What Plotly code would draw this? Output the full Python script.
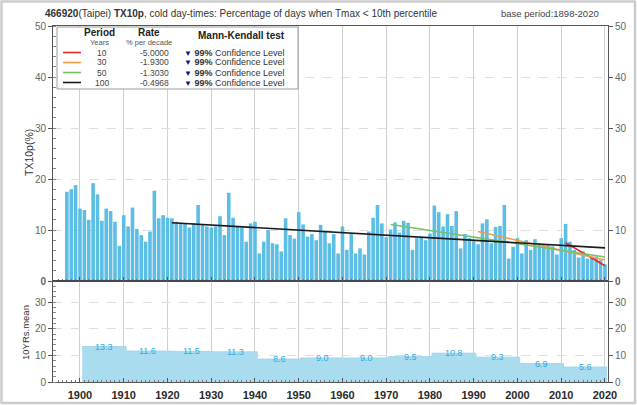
import plotly.graph_objects as go

# Annual TX10p (% of days with Tmax < 10th percentile), Taipei 466920
years = list(range(1897, 2021))
tx10p = [
    17.5, 18.0, 18.8,                                              # 1897-1899
    14.2, 13.9, 12.0, 19.2, 17.0, 11.8, 14.2, 13.7, 11.6, 6.9,     # 1900-1909
    12.9, 10.7, 14.4, 10.2, 9.0, 7.7, 9.7, 17.7, 12.3, 12.9,       # 1910-1919
    12.4, 12.3, 11.6, 11.3, 11.3, 10.5, 11.3, 14.9, 11.0, 10.7,    # 1920-1929
    10.5, 10.7, 12.7, 9.0, 17.3, 12.4, 10.7, 10.5, 7.7, 11.3,      # 1930-1939
    11.6, 5.4, 7.7, 10.0, 7.4, 7.2, 5.8, 12.3, 9.0, 8.3,           # 1940-1949
    13.5, 11.1, 8.7, 9.2, 8.0, 11.0, 9.7, 7.4, 9.2, 5.4,           # 1950-1959
    10.7, 6.1, 9.2, 5.4, 6.4, 5.2, 9.7, 12.4, 14.9, 11.3,          # 1960-1969
    8.6, 10.1, 11.5, 9.5, 11.8, 11.4, 6.1, 8.4, 8.7, 8.0,          # 1970-1979
    9.3, 14.8, 13.5, 10.7, 13.1, 10.8, 13.7, 6.4, 9.2, 8.4,        # 1980-1989
    7.8, 7.2, 11.3, 12.1, 7.4, 10.6, 10.8, 14.9, 4.4, 6.7,         # 1990-1999
    8.4, 5.4, 8.0, 6.1, 8.2, 7.4, 7.2, 7.1, 6.8, 5.2,              # 2000-2009
    8.4, 11.2, 7.7, 6.1, 4.6, 5.8, 4.4, 4.8, 4.8, 4.1,             # 2010-2019
    3.3,                                                           # 2020
]

# Trend lines: period length (years), rate (% per decade), value at 2020
trend_periods = [10, 30, 50, 100]
trend_rates = [-5.0000, -1.9300, -1.3030, -0.4968]
trend_end = [3.0, 4.1, 4.7, 6.5]
trend_colors = ["#e3262b", "#f39c43", "#76c068", "#1a1a1a"]
trend_end_year = 2020

# Ten-year means (1901-1910 ... 2011-2020)
decade_start = list(range(1901, 2021, 10))
decade_mean = [13.3, 11.6, 11.5, 11.3, 8.6, 9.0, 9.0, 9.5, 10.8, 9.3, 6.9, 5.6]

x_ticks = list(range(1900, 2021, 10))

FONT = "Liberation Sans, Arial, sans-serif"
BAR = "#5cbde5"
FILL = "#a9dcef"
LABEL_BLUE = "#33a9dc"
GRID = "#d0d0d0"

# plot-area pixel frame, used to place the text block and frame in paper units
PL, PR, PT, PB = 53, 608, 26, 382
SPLIT = 281


def px(x):
    return (x - PL) / (PR - PL)


def py(y):
    return (PB - y) / (PB - PT)


fig = go.Figure()

fig.add_trace(go.Bar(x=years, y=tx10p, marker=dict(color=BAR, line=dict(width=0)),
                     xaxis="x", yaxis="y", showlegend=False, hoverinfo="x+y"))

for per, rate, end, col in zip(trend_periods, trend_rates, trend_end, trend_colors):
    start_year = trend_end_year - per + 1
    start_val = end - rate / 10.0 * (per - 1)
    fig.add_trace(go.Scatter(x=[start_year, trend_end_year], y=[start_val, end],
                             mode="lines", line=dict(color=col, width=1.6),
                             xaxis="x", yaxis="y", showlegend=False))

# decade-mean step area
step_x = [d - 0.5 for d in decade_start] + [decade_start[-1] + 9.5]
step_y = decade_mean + [decade_mean[-1]]
fig.add_trace(go.Scatter(x=step_x, y=step_y, mode="lines", line_shape="hv",
                         line=dict(color="#9fd7ee", width=1), fill="tozeroy",
                         fillcolor=FILL, xaxis="x2", yaxis="y2", showlegend=False))

# right-hand label axes
fig.add_trace(go.Scatter(x=[None], y=[None], xaxis="x", yaxis="y3", showlegend=False))
fig.add_trace(go.Scatter(x=[None], y=[None], xaxis="x2", yaxis="y4", showlegend=False))

annotations = []
for d, m in zip(decade_start, decade_mean):
    annotations.append(dict(x=d + 4.5, y=m, xref="x2", yref="y2", text=f"{m:.1f}",
                            showarrow=False, font=dict(family=FONT, size=9, color=LABEL_BLUE),
                            xanchor="center", yanchor="middle"))

xrange = [1893.83, 2020.69]
split_dom = py(SPLIT)
top_range = [0, 50]
bot_range = [0, (PB - SPLIT) / ((PB - 302) / 30.0)]

axis_line = dict(showline=True, linecolor="#555555", linewidth=1, automargin=False)
ytick_font = dict(family=FONT, size=10, color="#666666")
top_vals = [0, 10, 20, 30, 40, 50]
top_text = ["<b>0</b>"] + [str(v) for v in top_vals[1:]]
bot_vals = [0, 10, 20, 30]

fig.update_layout(
    width=637, height=405,
    margin=dict(l=PL, r=637 - PR, t=PT, b=405 - PB, autoexpand=False),
    paper_bgcolor="white", plot_bgcolor="white",
    bargap=0.18,
    font=dict(family=FONT, color="#333333"),
    xaxis=dict(domain=[0, 1], anchor="y", range=xrange, showticklabels=False,
               tickvals=x_ticks, ticks="inside", ticklen=4, tickcolor="#555",
               minor=dict(dtick=1, tick0=1900, ticks="inside", ticklen=2, tickcolor="#777", showgrid=False),
               showgrid=True, gridcolor=GRID, gridwidth=1, mirror=True, zeroline=False, **axis_line),
    xaxis2=dict(domain=[0, 1], anchor="y2", range=xrange, matches="x",
                tickvals=x_ticks, ticktext=[f"<b>{t}</b>" for t in x_ticks],
                tickfont=dict(family=FONT, size=11, color="#2a2a2a"), ticklabelstandoff=3,
                ticks="inside", ticklen=4, tickcolor="#555",
                minor=dict(dtick=1, tick0=1900, ticks="inside", ticklen=2, tickcolor="#777", showgrid=False),
                showgrid=True, gridcolor=GRID, gridwidth=1, mirror=True, zeroline=False, **axis_line),
    yaxis=dict(domain=[split_dom, 1], anchor="x", range=top_range, tickvals=top_vals,
               ticktext=top_text, tickfont=ytick_font, ticks="outside", ticklen=4, tickcolor="#555",
               minor=dict(dtick=2, ticks="inside", ticklen=3, tickcolor="#888", showgrid=False),
               showgrid=True, gridcolor="#dedede", griddash="dash", zeroline=False,
               mirror=True, **axis_line),
    yaxis2=dict(domain=[0, split_dom], anchor="x2", range=bot_range, tickvals=bot_vals,
                tickfont=ytick_font, ticks="outside", ticklen=4, tickcolor="#555",
                minor=dict(dtick=2, ticks="inside", ticklen=3, tickcolor="#888", showgrid=False),
                showgrid=True, gridcolor="#dedede", griddash="dash", zeroline=False,
                mirror=True, **axis_line),
    yaxis3=dict(overlaying="y", side="right", anchor="x", range=top_range, tickvals=top_vals,
                ticktext=top_text, tickfont=ytick_font, ticks="outside", ticklen=4,
                tickcolor="#555", showgrid=False, zeroline=False, showline=False, automargin=False),
    yaxis4=dict(overlaying="y2", side="right", anchor="x2", range=bot_range, tickvals=bot_vals,
                tickfont=ytick_font, ticks="outside", ticklen=4, tickcolor="#555",
                showgrid=False, zeroline=False, showline=False, automargin=False),
)

# titles
annotations += [
    dict(x=px(44), y=py(14), xref="paper", yref="paper", xanchor="left", yanchor="middle",
         text="<b>466920</b>(Taipei) <b>TX10p</b>, cold day-times: Percentage of days when Tmax &lt; 10th percentile",
         showarrow=False, font=dict(family=FONT, size=10, color="#333333")),
    dict(x=px(600), y=py(14), xref="paper", yref="paper", xanchor="right", yanchor="middle",
         text="base period:1898-2020", showarrow=False,
         font=dict(family=FONT, size=9.5, color="#444444")),
    dict(x=px(29), y=py(153), xref="paper", yref="paper", text="TX10p(%)", textangle=-90,
         showarrow=False, font=dict(family=FONT, size=10.5, color="#333333")),
    dict(x=px(25), y=py(333), xref="paper", yref="paper", text="10YRs.mean", textangle=-90,
         showarrow=False, font=dict(family=FONT, size=9.5, color="#333333")),
]

# trend key block
hdr = dict(family=FONT, size=10, color="#222222")
sub = dict(family=FONT, size=7.5, color="#555555")
annotations += [
    dict(x=px(99), y=py(32), text="<b>Period</b>", font=hdr),
    dict(x=px(99), y=py(43), text="Years", font=sub),
    dict(x=px(149), y=py(32), text="<b>Rate</b>", font=hdr),
    dict(x=px(149), y=py(43), text="% per decade", font=sub),
    dict(x=px(241), y=py(36), text="<b>Mann-Kendall test</b>", font=hdr),
]
row_y = [52.5, 62.5, 72.5, 82.5]
row_font = dict(family=FONT, size=8.5, color="#444")
shapes = []
for ry, per, rate, col in zip(row_y, trend_periods, trend_rates, trend_colors):
    shapes.append(dict(type="line", xref="paper", yref="paper", x0=px(63), x1=px(81),
                       y0=py(ry), y1=py(ry), line=dict(color=col, width=1.6)))
    annotations += [
        dict(x=px(102), y=py(ry), text=str(per), font=row_font),
        dict(x=px(154), y=py(ry), text=f"{rate:.4f}", font=row_font),
        dict(x=px(183), y=py(ry), xanchor="left",
             text='<span style="color:#14148a;font-size:8px">▼</span> <b>99%</b> Confidence Level',
             font=dict(family=FONT, size=9, color="#333")),
    ]
for a in annotations:
    a.setdefault("xref", "paper")
    a.setdefault("yref", "paper")
    a.setdefault("showarrow", False)
    a.setdefault("xanchor", "center")
    a.setdefault("yanchor", "middle")
    a.setdefault("borderpad", 0)

shapes.insert(0, dict(type="rect", xref="paper", yref="paper", x0=px(57), x1=px(298),
                      y0=py(89), y1=py(27), line=dict(color="#9a9a9a", width=1),
                      fillcolor="white", layer="above"))
# panel separator and outer frame
shapes.append(dict(type="line", xref="paper", yref="paper", x0=0, x1=1,
                   y0=split_dom, y1=split_dom, line=dict(color="#444", width=1.5)))
shapes.append(dict(type="rect", xref="paper", yref="paper", x0=px(1.5), x1=px(635),
                   y0=py(403), y1=py(1.5), line=dict(color="#cccccc", width=2.5)))

fig.update_layout(annotations=annotations, shapes=shapes)

fig.write_html("out.html")
